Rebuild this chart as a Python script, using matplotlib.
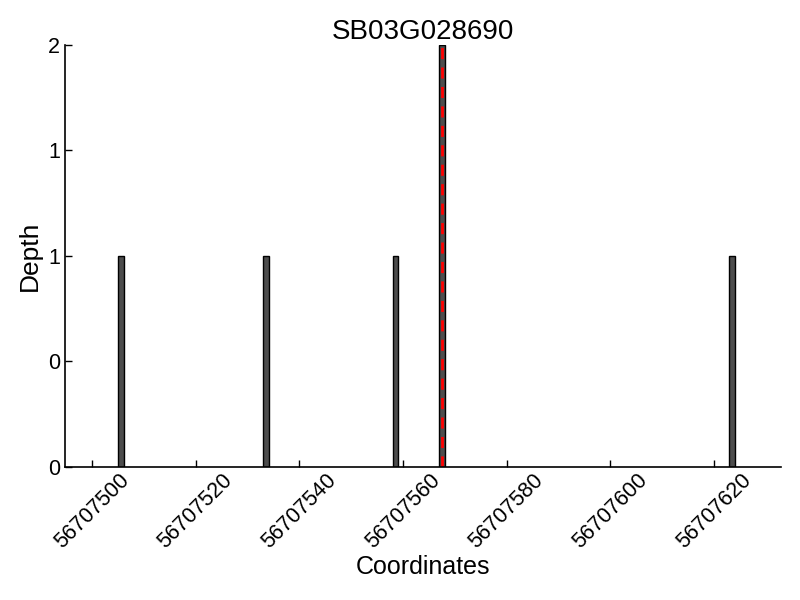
import matplotlib
matplotlib.use("Agg")
import matplotlib.pyplot as plt
from matplotlib.ticker import FormatStrFormatter

plt.rcParams['font.family'] = ['Liberation Sans', 'DejaVu Sans']

# === DATOS ===
gene = "SB03G028690"
positions = [56707505, 56707533, 56707558, 56707567, 56707623]
depth = [1, 1, 1, 2, 1]
snp_pos = 56707567.5
x_ticks = [56707500, 56707520, 56707540, 56707560, 56707580, 56707600, 56707620]
y_ticks = [0, 0.5, 1, 1.5, 2]

# === FIGURA ===
fig = plt.figure(figsize=(8, 6), dpi=100)
ax = fig.add_axes([0.081, 0.222, 0.895, 0.703])

ax.bar(positions, depth, width=1.1, align='edge', color='#4d4d4d',
       edgecolor='black', linewidth=1)
ax.axvline(snp_pos, color='red', linestyle='--', linewidth=2, dashes=(4, 3))

ax.set_xlim(56707494.75, 56707632.9)
ax.set_ylim(0, 2)
ax.set_xticks(x_ticks)
ax.set_xticklabels([str(t) for t in x_ticks], rotation=45, fontsize=15.5)
ax.set_yticks(y_ticks)
ax.yaxis.set_major_formatter(FormatStrFormatter('%d'))
ax.tick_params(axis='both', direction='in', labelsize=15.5, width=1, length=5)
ax.tick_params(axis='x', pad=2)

for s in ['top', 'right']:
    ax.spines[s].set_visible(False)
for s in ['left', 'bottom']:
    ax.spines[s].set_linewidth(1.2)

ax.set_title(gene, fontsize=20, pad=2)
ax.set_xlabel("Coordinates", fontsize=18, labelpad=2)
ax.set_ylabel("Depth", fontsize=19, labelpad=4)

fig.savefig("out.png", dpi=100)
